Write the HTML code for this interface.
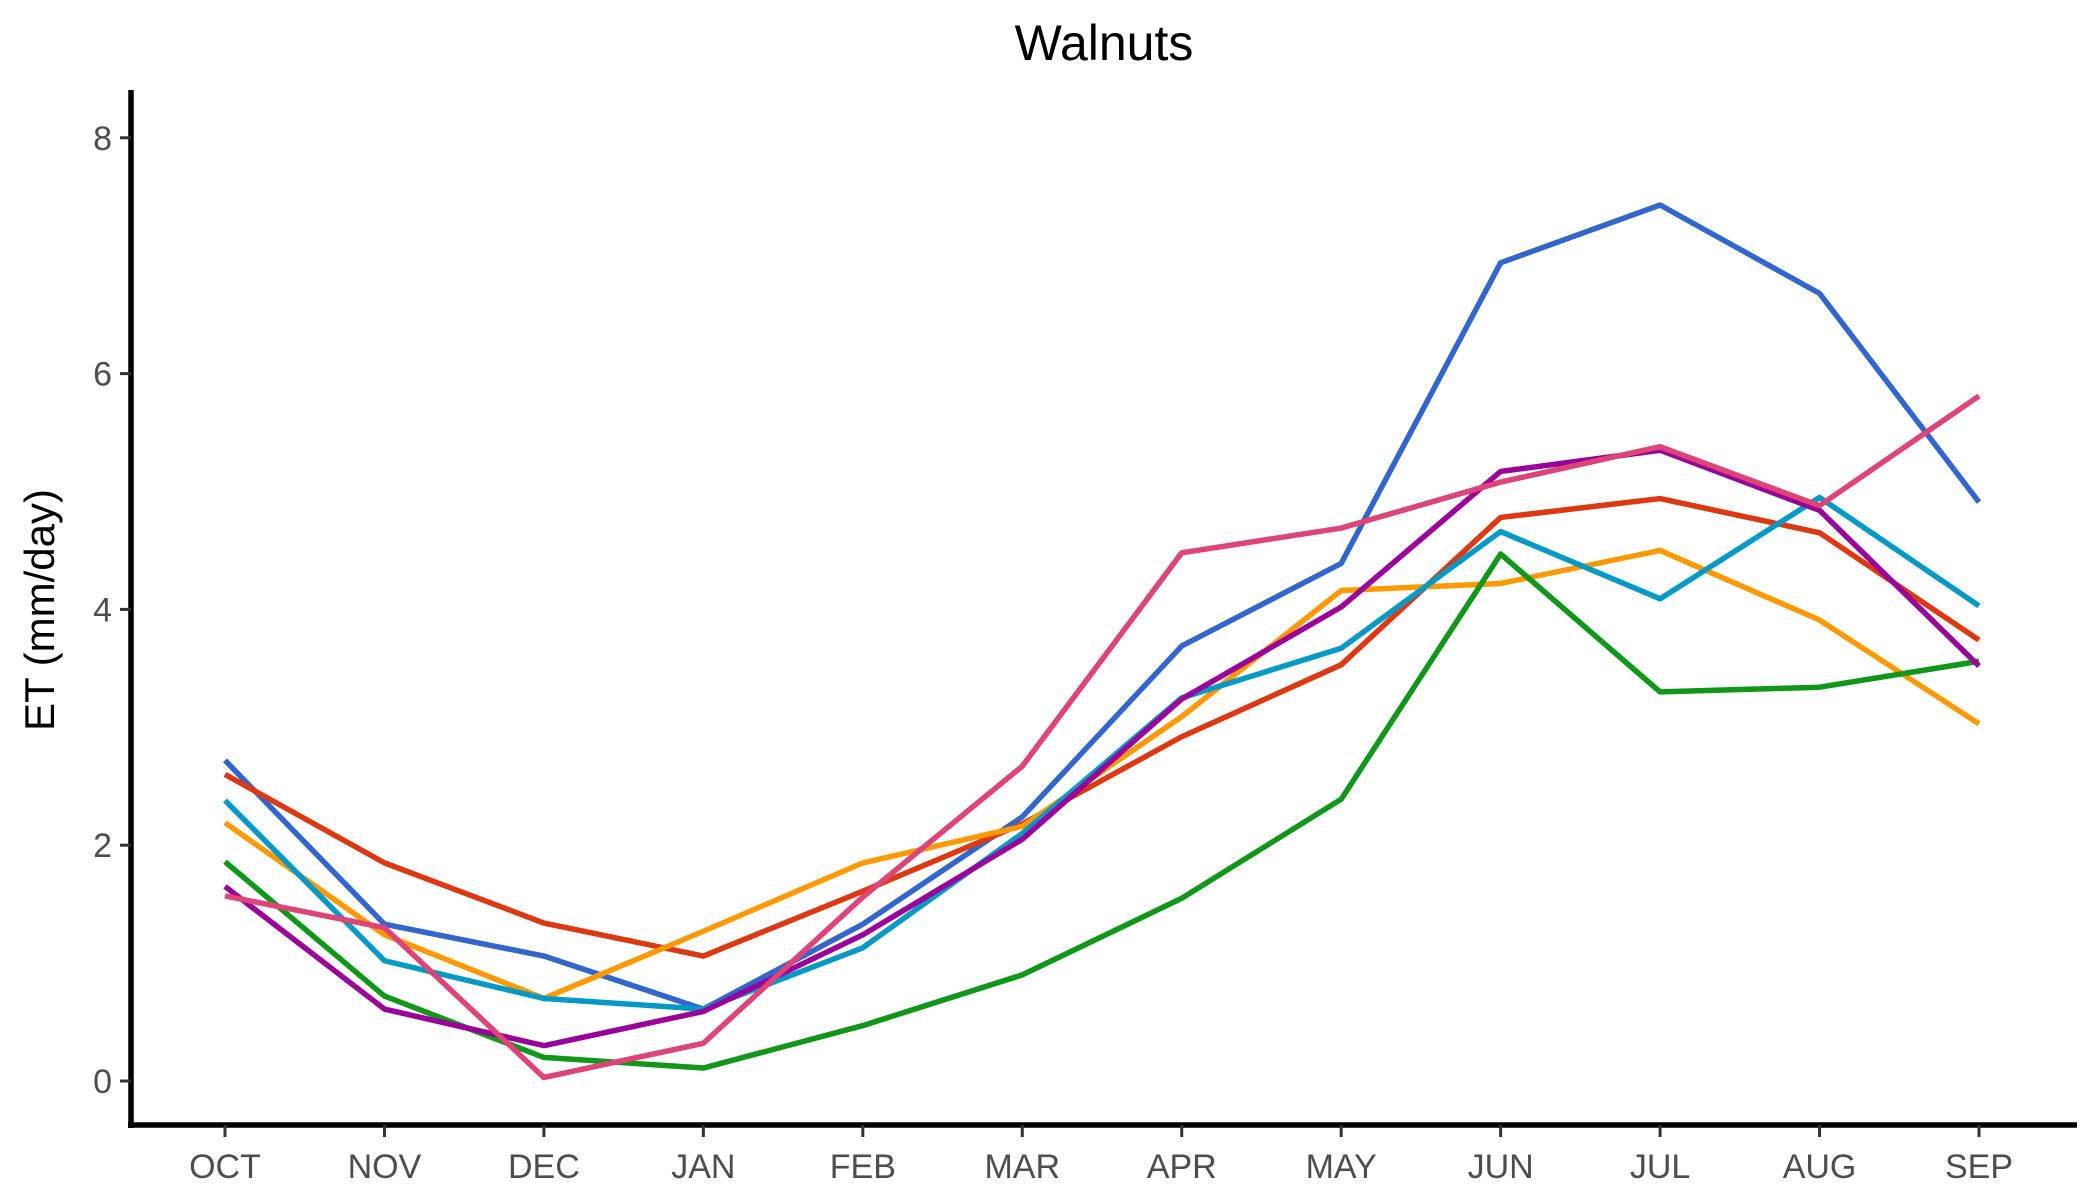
<!DOCTYPE html>
<html><head><meta charset="utf-8"><style>
html,body{margin:0;padding:0;background:#fff;}
svg{display:block;font-family:"Liberation Sans",Arial,sans-serif;}
</style></head><body>
<svg id="chart" width="2100" height="1200" viewBox="0 0 2100 1200">
<text x="1104" y="60" text-anchor="middle" font-size="50" fill="#000">Walnuts</text>
<text transform="translate(54,610) rotate(-90)" text-anchor="middle" font-size="42" fill="#000">ET (mm/day)</text>
<g id="axes"></g>
<g id="series"></g>
</svg>
<script>
const months = ["OCT","NOV","DEC","JAN","FEB","MAR","APR","MAY","JUN","JUL","AUG","SEP"];
const yTicks = [0,2,4,6,8];
const seriesNames = ["blue","red","orange","green","cyan","purple","pink"];
const seriesColors = ["#3366cc","#dc3912","#ff9900","#109618","#0099c6","#990099","#dd4477"];
const sBlue   = [2.72,1.33,1.06,0.61,1.33,2.24,3.69,4.39,6.94,7.43,6.68,4.91];
const sRed    = [2.60,1.85,1.34,1.06,1.61,2.18,2.92,3.53,4.78,4.94,4.65,3.74];
const sOrange = [2.19,1.24,0.70,1.27,1.85,2.16,3.09,4.16,4.22,4.50,3.91,3.03];
const sGreen  = [1.86,0.72,0.20,0.11,0.47,0.90,1.55,2.39,4.47,3.30,3.34,3.56];
const sCyan   = [2.38,1.02,0.70,0.61,1.13,2.10,3.25,3.67,4.66,4.09,4.95,4.03];
const sPurple = [1.65,0.61,0.30,0.59,1.24,2.05,3.24,4.02,5.17,5.35,4.84,3.52];
const sPink   = [1.57,1.30,0.03,0.32,1.56,2.67,4.48,4.69,5.08,5.38,4.88,5.81];
const allSeries = [sBlue,sRed,sOrange,sGreen,sCyan,sPurple,sPink];

const NS="http://www.w3.org/2000/svg";
const X0=225, X1=1979, Y0=1081, YPER=117.9;
function xPos(i){return X0+(X1-X0)*i/(months.length-1);}
function yPos(v){return Y0-v*YPER;}
function mk(tag,attrs,parent){const e=document.createElementNS(NS,tag);for(const k in attrs)e.setAttribute(k,attrs[k]);parent.appendChild(e);return e;}

const axes=document.getElementById("axes");
let l=mk("line",{x1:131,y1:90,x2:131,y2:1128,stroke:"#000","stroke-width":5.5},axes);


l=mk("line",{x1:128,y1:1125,x2:2077,y2:1125,stroke:"#000","stroke-width":5.5},axes);


yTicks.forEach(v=>{
  const y=yPos(v);
  const t=mk("line",{x1:120,y1:y,x2:131,y2:y,stroke:"#333","stroke-width":3},axes);
  
  
  const tx=mk("text",{x:112,y:y+12,"text-anchor":"end","font-size":34,fill:"#4d4d4d"},axes);
  tx.textContent=v;
  
  
});
months.forEach((m,i)=>{
  const x=xPos(i);
  const t=mk("line",{x1:x,y1:1125,x2:x,y2:1137,stroke:"#333","stroke-width":3},axes);
  
  
  const tx=mk("text",{x:x,y:1178,"text-anchor":"middle","font-size":34,fill:"#4d4d4d"},axes);
  tx.textContent=m;
  
  
});
const sg=document.getElementById("series");
allSeries.forEach((s,k)=>{
  const pts=s.map((v,i)=>xPos(i)+","+yPos(v)).join(" ");
  const p=mk("polyline",{points:pts,fill:"none",stroke:seriesColors[k],"stroke-width":5.5,"stroke-linejoin":"round"},sg);
  
  
});
</script>
</body></html>
